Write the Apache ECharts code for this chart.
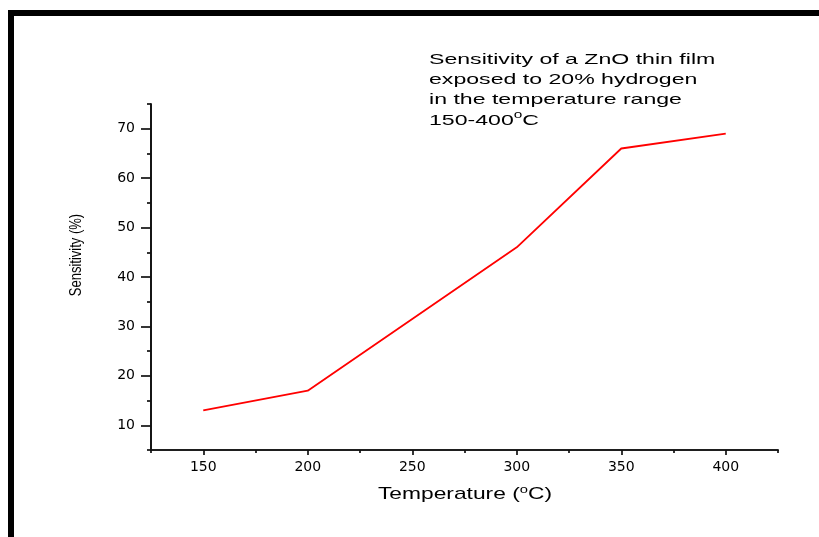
<!DOCTYPE html>
<html>
<head>
<meta charset="utf-8">
<script src="https://cdn.jsdelivr.net/npm/echarts@6/dist/echarts.min.js"></script>
<style>
  html, body { margin: 0; padding: 0; background: #fff; }
  #chart { width: 819px; height: 537px; }
</style>
</head>
<body>
<div id="chart"></div>
<script>
// Measured sensitivity of the ZnO film at each operating temperature
const temperature = [150, 200, 300, 350, 400];
const sensitivity = [13, 17, 46, 66, 69];

// Tick positions (labelled majors and unlabelled minors)
const xMajorTicks = [150, 200, 250, 300, 350, 400];
const xMinorTicks = [125, 175, 225, 275, 325, 375, 425];
const yMajorTicks = [10, 20, 30, 40, 50, 60, 70];
const yMinorTicks = [5, 15, 25, 35, 45, 55, 65, 75];

const AXIS_COLOR = '#111';
const TEXT_FONT = '"Liberation Sans", Arial, sans-serif';
const TICK_FONT = '"DejaVu Sans", sans-serif';

const chart = echarts.init(document.getElementById('chart'));

const axisLine = { show: true, onZero: false, lineStyle: { color: AXIS_COLOR, width: 1.7 } };
const tickStyle = { color: AXIS_COLOR, width: 1.7 };

chart.setOption({
  animation: false,
  backgroundColor: '#fff',
  grid: { left: 151, right: 41, top: 104, bottom: 87 },
  xAxis: [
    {
      type: 'value', position: 'bottom', min: 125, max: 425, interval: 25,
      axisLine: axisLine,
      axisTick: { show: true, inside: false, length: 5, customValues: xMajorTicks, lineStyle: tickStyle },
      axisLabel: { show: true, customValues: xMajorTicks, margin: 10,
                   color: '#000', fontFamily: TICK_FONT, fontSize: 14 },
      splitLine: { show: false }
    },
    {
      type: 'value', position: 'bottom', offset: 0, min: 125, max: 425, interval: 25,
      axisLine: axisLine,
      axisTick: { show: true, inside: false, length: 3, customValues: xMinorTicks, lineStyle: tickStyle },
      axisLabel: { show: false },
      splitLine: { show: false }
    }
  ],
  yAxis: [
    {
      type: 'value', position: 'left', min: 5, max: 75, interval: 5,
      axisLine: axisLine,
      axisTick: { show: true, inside: false, length: 10, customValues: yMajorTicks, lineStyle: tickStyle },
      axisLabel: { show: true, customValues: yMajorTicks, margin: 16,
                   color: '#000', fontFamily: TICK_FONT, fontSize: 14 },
      splitLine: { show: false }
    },
    {
      type: 'value', position: 'left', offset: 0, min: 5, max: 75, interval: 5,
      axisLine: axisLine,
      axisTick: { show: true, inside: false, length: 4, customValues: yMinorTicks, lineStyle: tickStyle },
      axisLabel: { show: false },
      splitLine: { show: false }
    }
  ],
  series: [
    {
      type: 'line',
      xAxisIndex: 0,
      yAxisIndex: 0,
      data: temperature.map((t, i) => [t, sensitivity[i]]),
      showSymbol: false,
      symbol: 'none',
      lineStyle: { color: '#ff0000', width: 1.8 }
    }
  ],
  graphic: [
    // frame bars along the top and left edge
    { type: 'rect', shape: { x: 8, y: 10, width: 811, height: 6 }, style: { fill: '#000' } },
    { type: 'rect', shape: { x: 8, y: 10, width: 6, height: 527 }, style: { fill: '#000' } },
    // annotation block
    {
      type: 'text', x: 429, y: 49.5, scaleX: 1.54,
      style: {
        text: 'Sensitivity of a ZnO thin film\nexposed to 20% hydrogen\nin the temperature range\n150-400{s|o}C',
        font: '15px ' + TEXT_FONT,
        fill: '#000',
        lineHeight: 20.3,
        verticalAlign: 'top',
        rich: {
          s: { fontSize: 10, fontFamily: TEXT_FONT, fill: '#000', verticalAlign: 'top', lineHeight: 20.3, padding: [0, 0, 7, 0] }
        }
      }
    },
    // x axis title
    {
      type: 'text', x: 465, y: 494, scaleX: 1.34,
      style: {
        text: 'Temperature ({s|o}C)',
        font: '17px ' + TEXT_FONT,
        fill: '#000',
        align: 'center',
        verticalAlign: 'middle',
        rich: {
          s: { fontSize: 11, fontFamily: TEXT_FONT, fill: '#000', padding: [0, 0, 9, 0] }
        }
      }
    },
    // y axis title
    {
      type: 'text', x: 77, y: 255, rotation: Math.PI / 2, scaleY: 1.2,
      style: {
        text: 'Sensitivity (%)',
        font: '13px ' + TEXT_FONT,
        fill: '#000',
        align: 'center',
        verticalAlign: 'middle'
      }
    }
  ]
});
</script>
</body>
</html>
